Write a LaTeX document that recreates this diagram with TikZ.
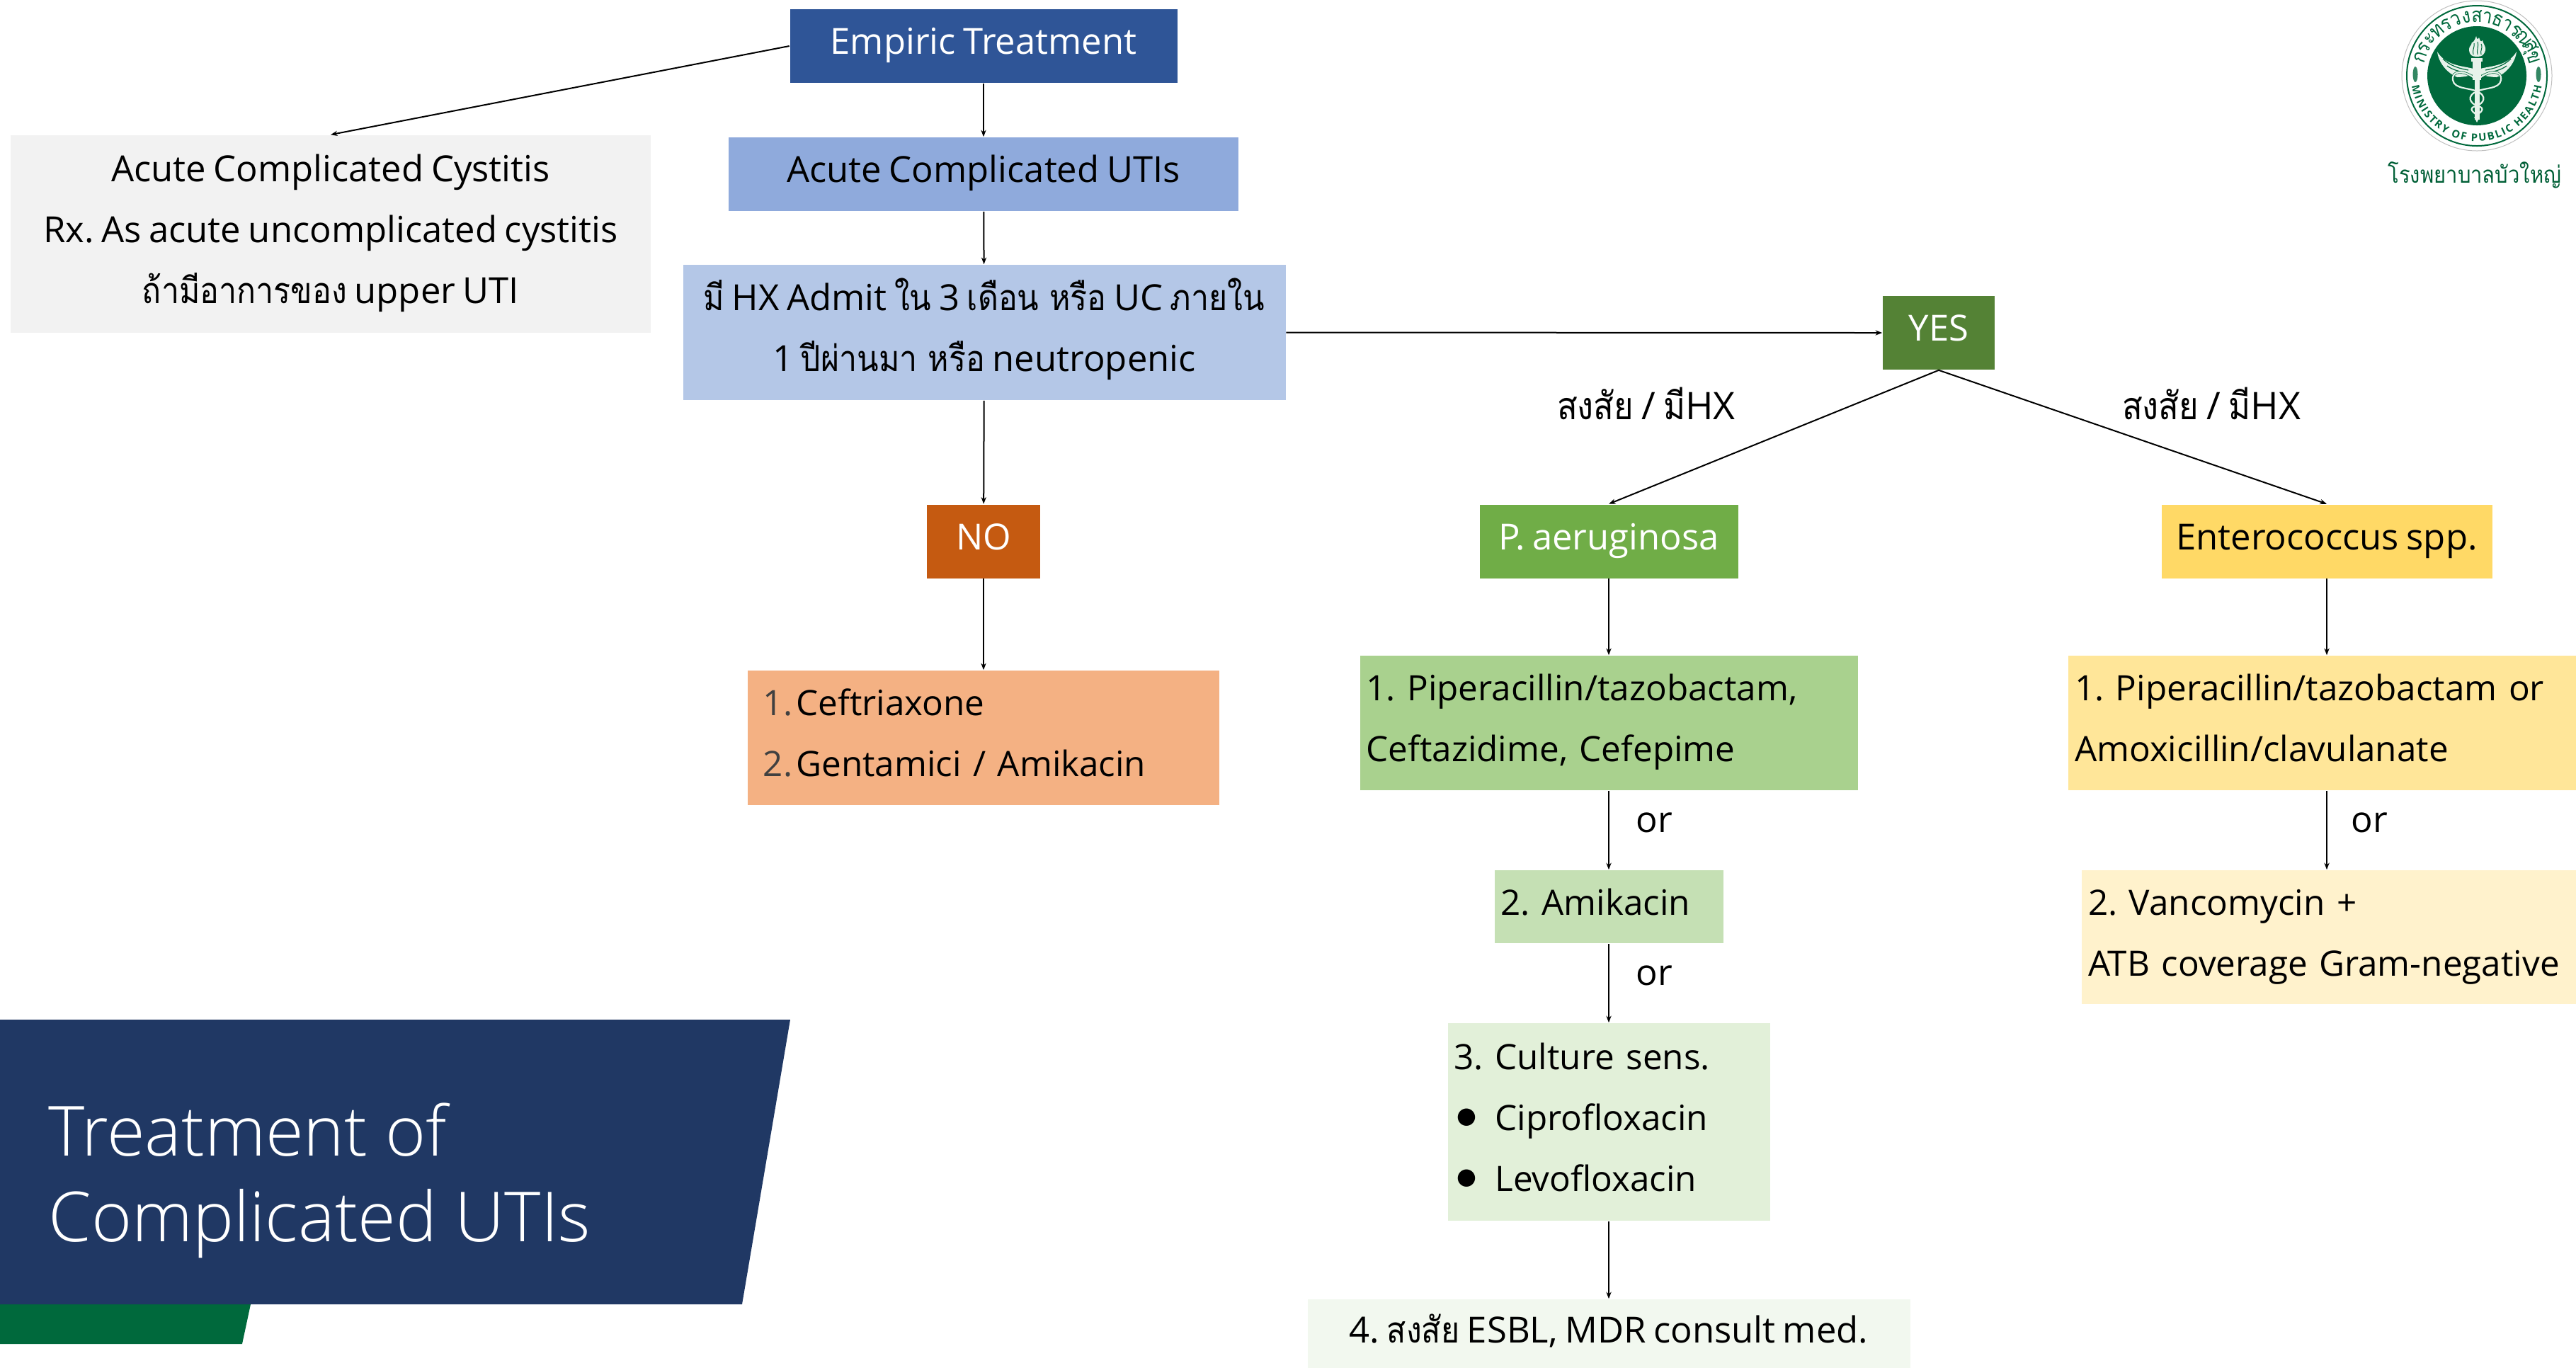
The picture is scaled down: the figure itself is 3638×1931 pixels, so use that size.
\documentclass[tikz,border=0pt]{standalone}
\usepackage{fontspec}
\usetikzlibrary{arrows.meta,calc,decorations.text}
\setmainfont[WordSpace=0.8]{Open Sans}
\newfontfamily\thaifont[Script=Thai,FakeStretch=0.88]{Loma}
\newfontfamily\sym{DejaVu Sans}
\newfontfamily\lightf{Open Sans Light}
\frenchspacing
\newcommand\tf[1]{{\thaifont #1}}
\newcommand\hs{\rule{0pt}{14pt}}
\newcommand\ds{\rule[-8.2pt]{0pt}{0pt}}
\newcommand\bul{\makebox[14.5pt][l]{\hspace{1pt}\raisebox{2.3pt}{\sym\fontsize{8}{8}\selectfont ●}}}
\definecolor{cEmp}{HTML}{2F5597}
\definecolor{cUti}{HTML}{8FAADC}
\definecolor{cHx}{HTML}{B4C7E7}
\definecolor{cCys}{HTML}{F2F2F2}
\definecolor{cYes}{HTML}{548235}
\definecolor{cNo}{HTML}{C55A11}
\definecolor{cCef}{HTML}{F4B183}
\definecolor{cPa}{HTML}{70AD47}
\definecolor{cP1}{HTML}{A9D18E}
\definecolor{cP2}{HTML}{C5E0B4}
\definecolor{cP3}{HTML}{E2F0D9}
\definecolor{cP4}{HTML}{F2F8EF}
\definecolor{cEn}{HTML}{FFD966}
\definecolor{cE1}{HTML}{FFE699}
\definecolor{cE2}{HTML}{FFF2CC}
\definecolor{cTitle}{HTML}{203864}
\definecolor{cGreen}{HTML}{00693C}
\definecolor{cPale}{HTML}{E6F2EA}
\tikzset{
  box/.style={inner xsep=0pt,inner ysep=0pt,align=center,font=\fontsize{12.7}{21.5}\selectfont},
  lbox/.style={box,align=left,inner xsep=2.25pt,font=\fontsize{12.35}{21.5}\selectfont},
  lbl/.style={inner sep=0pt,align=center,font=\fontsize{12.7}{21.5}\selectfont},
  qlbl/.style={lbl,font=\fontsize{13.4}{21.5}\selectfont},
  conn/.style={draw=black,line width=0.5pt,-{Stealth[length=2.4pt,width=1.8pt]}},
  emblem/.style={fill=cPale,draw=none},
  ringletter/.style={inner sep=0pt,text=cGreen,font=\thaifont\fontsize{7.2}{7.2}\selectfont},
}
\begin{document}
\begin{tikzpicture}[x=0.25pt,y=-0.25pt]
\useasboundingbox (0,0) rectangle (3638,1931);
\clip (0,0) rectangle (3638,1931);
% title banner
\fill[cGreen] (0,1842) -- (354,1842) -- (342,1898) -- (0,1898) -- cycle;
\fill[cTitle] (0,1440) -- (1116,1440) -- (1048,1842) -- (0,1842) -- cycle;
\node[inner sep=0pt,anchor=base west,text=white,font=\lightf\fontsize{24.4}{30.25}\selectfont,align=left] (title) at (68,1753) {Treatment of\\Complicated UTIs};
% boxes
\node[box,fill=cEmp,text=white,minimum width=136.75pt,minimum height=26pt] (emp) at (1389,65) {\hs Empiric Treatment\ds};
\node[box,fill=cCys,minimum width=226pt,minimum height=69.75pt] (cys) at (467,330.5) {\hs Acute Complicated Cystitis\\Rx. As acute uncomplicated cystitis\\\tf{ถ้ามีอาการของ} upper UTI\ds};
\node[box,fill=cUti,minimum width=180pt,minimum height=26pt] (uti) at (1389,246) {\hs Acute Complicated UTIs\ds};
\node[box,fill=cHx,minimum width=212.75pt,minimum height=47.75pt] (hx) at (1390,469.5) {\hs \tf{มี} HX Admit \tf{ใน} 3 \tf{เดือน หรือ} UC \tf{ภายใน}\\1 \tf{ปีผ่านมา หรือ} neutropenic\ds};
\node[box,fill=cYes,text=white,minimum width=39.5pt,minimum height=26pt] (yes) at (2738,470) {\hs YES\ds};
\node[box,fill=cNo,text=white,minimum width=40pt,minimum height=26pt] (no) at (1389,764.5) {\hs NO\ds};
\node[lbox,fill=cCef,text width=162pt,inner xsep=2.25pt,inner ysep=0pt,minimum height=47.5pt,minimum width=166.5pt] (cef) at (1389,1042) {\hs\hspace{3.2pt}\makebox[9.6pt][l]{\color{black!75}1.}\,Ceftriaxone\\\hspace*{3.2pt}\makebox[9.6pt][l]{\color{black!75}2.}\,Gentamici / Amikacin\ds};
\node[box,fill=cPa,text=white,minimum width=91.25pt,minimum height=26pt] (pa) at (2272,764.5) {\hs P. aeruginosa\ds};
\node[box,fill=cEn,minimum width=116.75pt,minimum height=26pt] (en) at (3286,764.5) {\hs Enterococcus spp.\ds};
\node[lbox,fill=cP1,text width=171.25pt,minimum height=47.5pt] (p1) at (2272,1021) {\hs 1. Piperacillin/tazobactam,\\Ceftazidime, Cefepime\ds};
\node[lbox,fill=cP2,text width=76.25pt,minimum height=25.75pt] (p2) at (2272,1280.5) {\hs 2. Amikacin\ds};
\node[lbox,fill=cP3,text width=109.25pt,minimum height=69.75pt] (p3) at (2272,1584.5) {\hs 3. Culture sens.\\\bul Ciprofloxacin\\\bul Levofloxacin\ds};
\node[box,fill=cP4,minimum width=212.75pt,minimum height=40pt] (p4) at (2272,1915) {\rule{0pt}{10pt}4. \tf{สงสัย} ESBL, MDR consult med.\rule[-19.3pt]{0pt}{0pt}};
\node[lbox,fill=cE1,text width=178pt,minimum height=47.5pt] (e1) at (3286,1021) {\hs 1. Piperacillin/tazobactam or\\Amoxicillin/clavulanate\ds};
\node[lbox,fill=cE2,text width=178pt,minimum height=47.25pt] (e2) at (3305,1323.5) {\hs 2. Vancomycin +\\ATB coverage Gram-negative\ds};
% labels
\node[qlbl] (q1) at (2325,570) {\tf{สงสัย} / \tf{มี}HX};
\node[qlbl] (q2) at (3123,570) {\tf{สงสัย} / \tf{มี}HX};
\node[lbl] (or1) at (2336,1162) {or};
\node[lbl] (or2) at (2336,1378) {or};
\node[lbl] (or3) at (3346,1162) {or};
% connectors
\draw[conn] (emp.west) -- (cys.north);
\draw[conn] (emp) -- (uti);
\draw[conn] (uti) -- (hx);
\draw[conn] (hx.east) -- (yes.west);
\draw[conn] (hx) -- (no);
\draw[conn] (no) -- (cef);
\draw[conn] (yes.south) -- (pa.north);
\draw[conn] (yes.south) -- (en.north);
\draw[conn] (pa) -- (p1);
\draw[conn] (p1) -- (p2);
\draw[conn] (p2) -- (p3);
\draw[conn] (p3) -- (p4.north);
\draw[conn] (en) -- (e1);
\draw[conn] (e1.south) -- (e1.south |- e2.north);
% logo
\begin{scope}[shift={(3498,107)},y=0.25pt]
\fill[white] (0,0) circle[radius=106];
\draw[black!25,line width=0.25pt] (0,0) circle[radius=106];
\draw[cGreen,line width=0.5pt] (0,0) circle[radius=99];
\fill[cGreen] (0,0) circle[radius=70];
\foreach \c [count=\i from 0] in {ก,ร,ะ,ท,ร,ว,ง,ส,า,ธ,า,ร,ณ,สุ,ข}{
  \pgfmathsetmacro\ang{162-\i*144/14}
  \pgfmathsetmacro\rot{\ang-90}
  \node[ringletter,rotate=\rot] at (\ang:84) {\c};
}
\path[decorate,decoration={text along path,text align={fit to path},
  text={|\fontsize{3.7}{4}\selectfont\bfseries\color{cGreen}|MINISTRY OF PUBLIC HEALTH}}]
  (-92,-14) arc[start angle=189,end angle=351,radius=93];
% side ornaments
\fill[cGreen!80] (-87,2) ellipse[x radius=3.5,y radius=11];
\fill[cGreen!80] (87,2) ellipse[x radius=3.5,y radius=11];
% wings
\foreach \s in {1,-1}{
 \begin{scope}[xscale=\s]
  \path[emblem] (5,10) .. controls (20,14) and (44,14) .. (56,34) .. controls (54,18) and (42,4) .. (28,-2) .. controls (20,-2) and (10,0) .. (5,2) -- cycle;
  \draw[cGreen,line width=0.3pt] (12,8) .. controls (24,10) and (38,14) .. (48,24);
  \draw[cGreen,line width=0.3pt] (14,4) .. controls (24,6) and (34,8) .. (42,14);
  \draw[cGreen,line width=0.9pt] (4,-3) .. controls (18,8) and (36,8) .. (34,-6) .. controls (32,-20) and (8,-16) .. (-4,-24) .. controls (-16,-32) and (-6,-42) .. (5,-44) .. controls (12,-48) and (2,-54) .. (-1,-56);
  \draw[cPale,line width=0.55pt] (4,-3) .. controls (18,8) and (36,8) .. (34,-6) .. controls (32,-20) and (8,-16) .. (-4,-24) .. controls (-16,-32) and (-6,-42) .. (5,-44) .. controls (12,-48) and (2,-54) .. (-1,-56);
 \end{scope}}
% torch and staff
\path[emblem] (-3.5,-6) rectangle (3.5,-62);
\path[emblem] (0,-66) -- (-4,-58) -- (4,-58) -- cycle;
\path[emblem] (-6,-6) rectangle (6,20);
\path[emblem] (-8,20) rectangle (8,25);
\path[emblem] (-11,36) .. controls (-10,29) and (-7,27) .. (0,27) .. controls (7,27) and (10,29) .. (12,36) .. controls (13,42) and (9,44) .. (8,50) .. controls (5,47) and (5,49) .. (3,54) .. controls (1,50) and (0,52) .. (-1,56) .. controls (-3,50) and (-4,50) .. (-5,48) .. controls (-7,48) and (-8,46) .. (-8,44) .. controls (-10,42) and (-11,40) .. (-11,36) -- cycle;
\draw[cGreen,line width=0.25pt] (-5,30) .. controls (-7,36) and (-3,40) .. (-4,46);
\draw[cGreen,line width=0.25pt] (1,30) .. controls (-1,36) and (3,40) .. (1,48);
\draw[cGreen,line width=0.25pt] (6,30) .. controls (4,36) and (9,38) .. (6,45);
\end{scope}
\node[inner sep=0pt,anchor=base east,text=cGreen!90!black,font=\thaifont\fontsize{8.3}{10}\selectfont] (hosp) at (3618,258) {โรงพยาบาลบัวใหญ่};
\end{tikzpicture}
\end{document}
